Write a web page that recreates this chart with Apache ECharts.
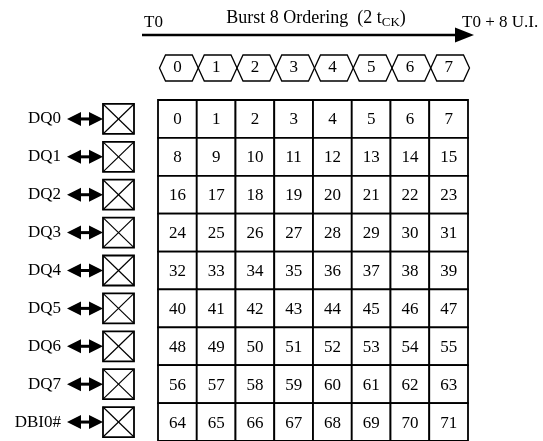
<!DOCTYPE html>
<html>
<head>
<meta charset="utf-8">
<script src="https://cdn.jsdelivr.net/npm/echarts@6/dist/echarts.min.js"></script>
<style>html,body{margin:0;padding:0;background:#fff;}#c{width:543px;height:441px;}</style>
</head>
<body>
<div id="c"></div>
<script>
// ---- data ----
var beatLabels = ['0', '1', '2', '3', '4', '5', '6', '7'];
var pinLabels = ['DQ0', 'DQ1', 'DQ2', 'DQ3', 'DQ4', 'DQ5', 'DQ6', 'DQ7', 'DBI0#'];
var bitOrder = [
  [0, 1, 2, 3, 4, 5, 6, 7],
  [8, 9, 10, 11, 12, 13, 14, 15],
  [16, 17, 18, 19, 20, 21, 22, 23],
  [24, 25, 26, 27, 28, 29, 30, 31],
  [32, 33, 34, 35, 36, 37, 38, 39],
  [40, 41, 42, 43, 44, 45, 46, 47],
  [48, 49, 50, 51, 52, 53, 54, 55],
  [56, 57, 58, 59, 60, 61, 62, 63],
  [64, 65, 66, 67, 68, 69, 70, 71]
];
var titleText = 'Burst 8 Ordering';
var startLabel = 'T0';
var endLabel = 'T0 + 8 U.I.';

// ---- layout ----
var FONT = '"Liberation Serif", "DejaVu Serif", serif';
var GRID_LEFT = 158, GRID_TOP = 100, GRID_W = 310, GRID_H = 347.4;

var cellData = [];
bitOrder.forEach(function (row, r) {
  row.forEach(function (v, c) { cellData.push([c, r, v]); });
});
var pinData = pinLabels.map(function (p, r) { return [0, r]; });
var beatData = beatLabels.map(function (b, c) { return [c, 0]; });

var chart = echarts.init(document.getElementById('c'), null, {renderer: 'canvas'});

var option = {
  animation: false,
  backgroundColor: '#fff',
  grid: {left: GRID_LEFT, top: GRID_TOP, width: GRID_W, height: GRID_H},
  xAxis: {
    type: 'category', data: beatLabels, position: 'top',
    axisLine: {show: false}, axisTick: {show: false}, splitLine: {show: false},
    axisLabel: {margin: 32, verticalAlign: 'middle', fontFamily: FONT, fontSize: 17, color: '#000'},
    z: 10
  },
  yAxis: {
    type: 'category', data: pinLabels, inverse: true,
    axisLine: {show: false}, axisTick: {show: false}, splitLine: {show: false},
    axisLabel: {margin: 97, align: 'right', fontFamily: FONT, fontSize: 17, color: '#000'}
  },
  series: [
    {
      type: 'custom', name: 'cells', data: cellData, clip: false,
      renderItem: function (params, api) {
        var p = api.coord([api.value(0), api.value(1)]);
        var s = api.size([1, 1]);
        return {
          type: 'group',
          children: [
            {type: 'rect', shape: {x: p[0] - s[0] / 2, y: p[1] - s[1] / 2, width: s[0], height: s[1]},
             style: {fill: '#fff', stroke: '#000', lineWidth: 1.8}},
            {type: 'text', x: p[0], y: p[1] + 1,
             style: {text: String(api.value(2)), fill: '#000', font: '17px ' + FONT, align: 'center', verticalAlign: 'middle'}}
          ]
        };
      }
    },
    {
      type: 'custom', name: 'beats', data: beatData, clip: false,
      renderItem: function (params, api) {
        var p = api.coord([api.value(0), 0]);
        var s = api.size([1, 1]);
        var x0 = p[0] - s[0] / 2 + 1.5, x1 = p[0] + s[0] / 2 + 1.5;
        var yc = GRID_TOP - 32, h = 13, k = 6;
        return {
          type: 'polygon',
          shape: {points: [[x0, yc], [x0 + k, yc - h], [x1 - k, yc - h], [x1, yc], [x1 - k, yc + h], [x0 + k, yc + h]]},
          style: {fill: 'none', stroke: '#000', lineWidth: 1.3}
        };
      }
    },
    {
      type: 'custom', name: 'pins', data: pinData, clip: false,
      renderItem: function (params, api) {
        var p = api.coord([0, api.value(1)]);
        var s = api.size([1, 1]);
        var gl = p[0] - s[0] / 2;
        var yc = p[1];
        var bx1 = gl - 24, bx0 = gl - 55, bh = 30;
        var by0 = yc - bh / 2, by1 = yc + bh / 2;
        var ax0 = gl - 91, ax1 = bx0;
        return {
          type: 'group',
          children: [
            {type: 'rect', shape: {x: bx0, y: by0, width: bx1 - bx0, height: bh}, style: {fill: '#fff', stroke: '#000', lineWidth: 1.8}},
            {type: 'line', shape: {x1: bx0, y1: by0, x2: bx1, y2: by1}, style: {stroke: '#000', lineWidth: 1.2}},
            {type: 'line', shape: {x1: bx0, y1: by1, x2: bx1, y2: by0}, style: {stroke: '#000', lineWidth: 1.2}},
            {type: 'line', shape: {x1: ax0 + 8, y1: yc, x2: ax1 - 8, y2: yc}, style: {stroke: '#000', lineWidth: 3}},
            {type: 'polygon', shape: {points: [[ax0, yc], [ax0 + 14, yc - 7], [ax0 + 14, yc + 7]]}, style: {fill: '#000'}},
            {type: 'polygon', shape: {points: [[ax1, yc], [ax1 - 14, yc - 7], [ax1 - 14, yc + 7]]}, style: {fill: '#000'}}
          ]
        };
      }
    }
  ],
  graphic: [
    {type: 'line', shape: {x1: 142, y1: 35, x2: 458, y2: 35}, style: {stroke: '#000', lineWidth: 2.5}},
    {type: 'polygon', shape: {points: [[455, 27.5], [474, 35], [455, 42.5]]}, style: {fill: '#000'}},
    {type: 'text', x: 144, y: 23, style: {text: startLabel, font: '17px ' + FONT, fill: '#000', align: 'left', verticalAlign: 'middle'}},
    {type: 'text', x: 462, y: 23, style: {text: endLabel, font: '17px ' + FONT, fill: '#000', align: 'left', verticalAlign: 'middle'}},
    {type: 'text', x: 316, y: 18, style: {
      text: '{a|' + titleText + '  (2 t}{s|CK}{a|)}',
      align: 'center', verticalAlign: 'middle',
      rich: {
        a: {fontFamily: FONT, fontSize: 18, lineHeight: 22, fill: '#000', color: '#000', verticalAlign: 'middle'},
        s: {fontFamily: FONT, fontSize: 13, lineHeight: 22, fill: '#000', color: '#000', verticalAlign: 'bottom', padding: [9, 0, 0, 0]}
      }
    }}
  ]
};
chart.setOption(option);
</script>
</body>
</html>
